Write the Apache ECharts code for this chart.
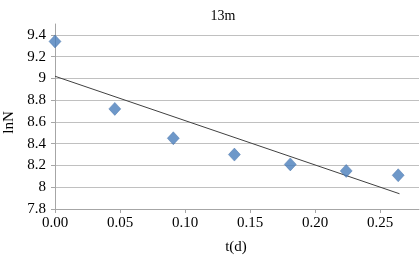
<!DOCTYPE html>
<html>
<head>
<meta charset="utf-8">
<script src="https://cdn.jsdelivr.net/npm/echarts@6/dist/echarts.min.js"></script>
<style>
    html, body {margin: 0; padding: 0; background: #fff;}
    #chart {width: 420px; height: 259px;}
</style>
</head>
<body>
<div id="chart"></div>
<script>
    // measured points (t in days, ln of count)
    const tDays = [0.0, 0.046, 0.091, 0.138, 0.181, 0.224, 0.264];
    const lnN = [9.34, 8.72, 8.45, 8.30, 8.21, 8.15, 8.11];
    // linear trend line end points
    const trendT = [0.0, 0.265];
    const trendLnN = [9.02, 7.94];

    const font = '"Liberation Serif", "Times New Roman", serif';

    let myChart = echarts.init(document.getElementById('chart'));

    let option = {
        animation: false,
        title: {
            text: '13m',
            left: 218,
            top: 4,
            textAlign: 'center',
            textStyle: {fontFamily: font, fontSize: 14, fontWeight: 'normal', color: '#000'}
        },
        grid: {left: 55, right: 1, top: 24, bottom: 50, outerBoundsMode: 'none', containLabel: false},
        xAxis: {
            type: 'value',
            min: 0,
            max: 0.28,
            interval: 0.05,
            name: 't(d)',
            nameLocation: 'middle',
            nameGap: 31,
            nameTextStyle: {fontFamily: font, fontSize: 15, color: '#000', padding: [0, 2, 0, 0]},
            axisLine: {show: true, lineStyle: {color: '#a6a6a6'}},
            axisTick: {show: true, length: 4, lineStyle: {color: '#a6a6a6'}},
            axisLabel: {
                showMaxLabel: false,
                fontFamily: font, fontSize: 15, color: '#000', margin: 7,
                formatter: v => v.toFixed(2)
            },
            splitLine: {show: false}
        },
        yAxis: {
            type: 'value',
            min: 7.8,
            max: 9.5,
            interval: 0.2,
            name: 'lnN',
            nameLocation: 'middle',
            nameGap: 34,
            nameRotate: 90,
            nameTextStyle: {fontFamily: font, fontSize: 15, color: '#000', padding: [0, 12, 0, 0]},
            axisLine: {show: true, lineStyle: {color: '#a6a6a6'}},
            axisTick: {show: true, length: 4, lineStyle: {color: '#a6a6a6'}},
            axisLabel: {
                showMaxLabel: false,
                fontFamily: font, fontSize: 15, color: '#000', margin: 9,
                formatter: v => Math.abs(v - Math.round(v)) < 1e-9 ? String(Math.round(v)) : v.toFixed(1)
            },
            splitLine: {
                show: true,
                lineStyle: {
                    color: ['#c0c0c0', '#c0c0c0', '#c0c0c0', '#c0c0c0', '#c0c0c0',
                        '#c0c0c0', '#c0c0c0', '#c0c0c0', '#c0c0c0', 'rgba(0,0,0,0)'],
                    width: 1
                }
            }
        },
        series: [
            {
                name: 'trend',
                type: 'line',
                data: trendT.map((t, i) => [t, trendLnN[i]]),
                symbol: 'none',
                lineStyle: {color: '#404040', width: 1},
                z: 2
            },
            {
                name: 'lnN',
                type: 'scatter',
                data: tDays.map((t, i) => [t, lnN[i]]),
                symbol: 'diamond',
                symbolSize: [12, 13],
                itemStyle: {color: '#4a7ebb', borderColor: '#3c6aa3', borderWidth: 0.5},
                z: 3
            }
        ]
    };

    myChart.setOption(option);
</script>
</body>
</html>
